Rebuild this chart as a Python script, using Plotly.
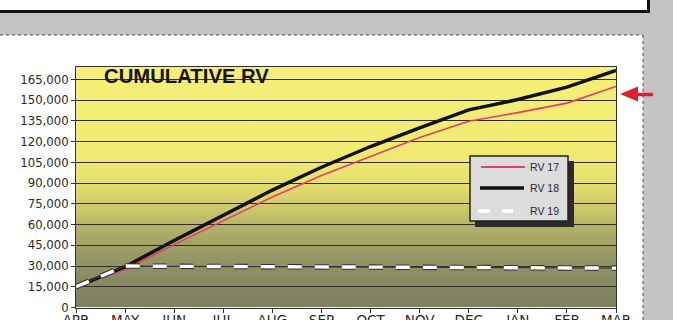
import base64
import plotly.graph_objects as go

# ---- data -------------------------------------------------------------
months = ["APR", "MAY", "JUN", "JUL", "AUG", "SEP", "OCT", "NOV", "DEC", "JAN", "FEB", "MAR"]
rv17 = [15000, 27500, 45500, 63000, 80000, 95500, 109500, 123000, 134800, 141000, 147900, 160000]
rv18 = [15000, 29500, 48500, 67000, 85000, 101500, 116500, 130000, 143000, 150500, 159500, 171500]
rv19 = [15000, 30000, 29800, 29600, 29400, 29200, 29000, 28900, 28800, 28700, 28600, 28500]
y_ticks = list(range(0, 165001, 15000))
series_names = ["RV 17", "RV 18", "RV 19"]

W, H = 673, 320
xi = list(range(len(months)))


def px(x):
    return x / W


def py(y):
    return 1 - y / H


# plot area in pixels
PL, PR, PT, PB = 76, 616, 66.5, 307.5
Y_MAX = 174400

fig = go.Figure()

# RV 17 – thin red
fig.add_trace(go.Scatter(x=xi, y=rv17, mode="lines", name=series_names[0],
                         line=dict(color="#e63e66", width=1.6), showlegend=False))
# RV 18 – heavy black
fig.add_trace(go.Scatter(x=xi, y=rv18, mode="lines", name=series_names[1],
                         line=dict(color="#111111", width=3.5), showlegend=False))
# RV 19 – white dashes with a dark rim
fig.add_trace(go.Scatter(x=xi, y=rv19, mode="lines", hoverinfo="skip",
                         line=dict(color="#3a3a30", width=1.2), showlegend=False))
fig.add_trace(go.Scatter(x=xi, y=rv19, mode="lines", hoverinfo="skip",
                         line=dict(color="#35352c", width=5.5, dash="14px,13px"), showlegend=False))
fig.add_trace(go.Scatter(x=xi, y=rv19, mode="lines", name=series_names[2],
                         line=dict(color="#ffffff", width=3.4, dash="14px,13px"), showlegend=False))

# vertical yellow-to-olive wash behind the plot (tied to the axes so it sits above page shapes)
stops = [(0.0, "#f5ef78"), (0.35, "#f2eb72"), (0.48, "#e6e06f"), (0.58, "#cfcb6a"),
         (0.68, "#b0ae67"), (0.78, "#989966"), (0.88, "#888a64"), (1.0, "#7e8160")]
stop_xml = "".join(f'<stop offset="{o}" stop-color="{c}"/>' for o, c in stops)
svg = ('<svg xmlns="http://www.w3.org/2000/svg" width="10" height="100" viewBox="0 0 10 100" '
       'preserveAspectRatio="none"><defs><linearGradient id="g" x1="0" y1="0" x2="0" y2="1">'
       f'{stop_xml}</linearGradient></defs><rect width="10" height="100" fill="url(#g)"/></svg>')
src = "data:image/svg+xml;base64," + base64.b64encode(svg.encode()).decode()
fig.add_layout_image(dict(source=src, xref="x", yref="y", x=0, y=Y_MAX,
                          sizex=len(months) - 1, sizey=Y_MAX, xanchor="left",
                          yanchor="top", sizing="stretch", layer="below"))

shapes = []
# page furniture on a grey page: white box edge above, white panel below
shapes.append(dict(type="rect", xref="paper", yref="paper", x0=0, x1=px(650), y0=py(11.5), y1=1,
                   fillcolor="#ffffff", line_width=0, layer="below"))
shapes.append(dict(type="line", xref="paper", yref="paper", x0=0, x1=px(650), y0=py(11.5), y1=py(11.5),
                   line=dict(color="#111111", width=3), layer="below"))
shapes.append(dict(type="line", xref="paper", yref="paper", x0=px(648.5), x1=px(648.5), y0=py(13), y1=1,
                   line=dict(color="#111111", width=3), layer="below"))
shapes.append(dict(type="rect", xref="paper", yref="paper", x0=0, x1=px(643), y0=0, y1=py(35),
                   fillcolor="#ffffff", line_width=0, layer="below"))
shapes.append(dict(type="line", xref="paper", yref="paper", x0=0, x1=px(643), y0=py(35), y1=py(35),
                   line=dict(color="#4a4a4a", width=1, dash="dot"), layer="below"))
shapes.append(dict(type="line", xref="paper", yref="paper", x0=px(643), x1=px(643), y0=0, y1=py(35),
                   line=dict(color="#4a4a4a", width=1, dash="dot"), layer="below"))

# legend box with drop shadow
LX0, LX1, LY0, LY1 = 470, 568, 156, 221
shapes.append(dict(type="rect", xref="paper", yref="paper", x0=px(LX0 + 5), x1=px(LX1 + 6),
                   y0=py(LY1 + 6), y1=py(LY0 + 5), fillcolor="#2b2b2b", line_width=0, layer="above"))
shapes.append(dict(type="rect", xref="paper", yref="paper", x0=px(LX0), x1=px(LX1),
                   y0=py(LY1), y1=py(LY0), fillcolor="#dcdcdc",
                   line=dict(color="#222222", width=1.5), layer="above"))
rows = [167, 188, 211]
shapes.append(dict(type="line", xref="paper", yref="paper", x0=px(481), x1=px(525),
                   y0=py(rows[0]), y1=py(rows[0]), line=dict(color="#e63e66", width=2), layer="above"))
shapes.append(dict(type="line", xref="paper", yref="paper", x0=px(480), x1=px(524),
                   y0=py(rows[1]), y1=py(rows[1]), line=dict(color="#111111", width=3.5), layer="above"))
for a, b in [(478, 490), (502, 513)]:
    shapes.append(dict(type="line", xref="paper", yref="paper", x0=px(a), x1=px(b),
                       y0=py(rows[2]), y1=py(rows[2]), line=dict(color="#ffffff", width=3.5), layer="above"))

# red pointer at the right edge
shapes.append(dict(type="path", xref="paper", yref="paper",
                   path=f"M {px(620)} {py(94)} L {px(638)} {py(86.5)} L {px(638)} {py(101.5)} Z",
                   fillcolor="#e0202e", line_width=0, layer="above"))
shapes.append(dict(type="line", xref="paper", yref="paper", x0=px(636), x1=px(653),
                   y0=py(94.5), y1=py(94.5), line=dict(color="#e0202e", width=3.5), layer="above"))

annotations = [
    dict(text="<b>CUMULATIVE RV</b>", xref="paper", yref="paper", x=px(102), y=py(76.5),
         xanchor="left", yanchor="middle", showarrow=False,
         font=dict(family="Liberation Sans", size=20.3, color="#141414")),
]
for name, r in zip(series_names, rows):
    annotations.append(dict(text=name, xref="paper", yref="paper", x=px(528), y=py(r),
                            xanchor="left", yanchor="middle", showarrow=False,
                            font=dict(family="Liberation Sans", size=10.5, color="#2a2a2a")))

fig.update_layout(
    width=W, height=H, margin=dict(l=0, r=0, t=0, b=0, autoexpand=False),
    paper_bgcolor="#c4c4c4", plot_bgcolor="rgba(0,0,0,0)",
    shapes=shapes, annotations=annotations, showlegend=False,
    xaxis=dict(domain=[px(PL), px(PR)], range=[0, len(months) - 1], automargin=False,
               tickvals=xi, ticktext=months, ticklabelstandoff=-4,
               showgrid=False, showline=True, linecolor="#333333", linewidth=1, mirror=True,
               ticks="outside", ticklen=4, tickcolor="#333333",
               tickfont=dict(family="DejaVu Sans", size=13.5, color="#2a2a2a"), zeroline=False),
    yaxis=dict(domain=[py(PB), py(PT)], range=[0, Y_MAX], tickvals=y_ticks, tickformat=",d",
               automargin=False,
               showgrid=True, gridcolor="#2e2e26", gridwidth=1,
               showline=True, linecolor="#333333", linewidth=1, mirror=True,
               ticks="outside", ticklen=4, tickcolor="#333333",
               tickfont=dict(family="DejaVu Sans", size=11.7, color="#2a2a2a"), zeroline=False),
)

fig.write_html("out.html", post_script="document.body.style.margin='0';document.body.style.overflow='hidden';")
